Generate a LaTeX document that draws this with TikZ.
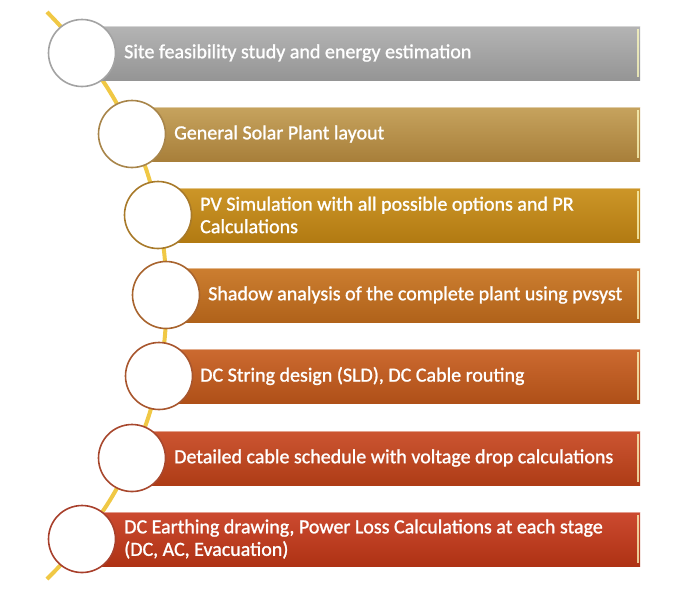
\documentclass[tikz,border=0pt]{standalone}
\usepackage{fontspec}
\setmainfont{Carlito}[FakeBold=1.2]
\usetikzlibrary{backgrounds}
\definecolor{gA}{HTML}{B4B4B4}\definecolor{gB}{HTML}{959595}\definecolor{gC}{HTML}{A3A3A3}
\definecolor{tA}{HTML}{C6A35E}\definecolor{tB}{HTML}{A87F3A}\definecolor{tC}{HTML}{A8854A}
\definecolor{oA}{HTML}{CC9628}\definecolor{oB}{HTML}{B27A12}\definecolor{oC}{HTML}{A87A2A}
\definecolor{pA}{HTML}{CC7E30}\definecolor{pB}{HTML}{B0621A}\definecolor{pC}{HTML}{A8642E}
\definecolor{qA}{HTML}{CC6A30}\definecolor{qB}{HTML}{AF5018}\definecolor{qC}{HTML}{A8562E}
\definecolor{rA}{HTML}{CC5532}\definecolor{rB}{HTML}{AE3C16}\definecolor{rC}{HTML}{A8482E}
\definecolor{sA}{HTML}{CC4A30}\definecolor{sB}{HTML}{AE3214}\definecolor{sC}{HTML}{A8402C}
\definecolor{lineY}{HTML}{F0C845}
\tikzset{
  bar/.style={anchor=west, minimum height=54pt, inner sep=0pt, shade, top color=#1A, bottom color=#1B,
    path picture={
      \draw[white, opacity=0.45, line width=2.5pt] (path picture bounding box.north west) -- (path picture bounding box.north east);
      \draw[yellow!25!white, opacity=0.75, line width=2pt] ([xshift=-2.5pt,yshift=-3pt]path picture bounding box.north east) -- ([xshift=-2.5pt,yshift=3pt]path picture bounding box.south east);
    }},
  bullet/.style={circle, minimum size=67pt, inner sep=0pt, fill=white, draw=#1C, line width=1.6pt},
  lbl/.style={anchor=west, text=white, font=\fontsize{20}{22.5}\selectfont, align=left, inner sep=0pt},
  yline/.style={lineY, line width=4pt}
}
\begin{document}
\begin{tikzpicture}[x=1pt,y=-1pt]
\useasboundingbox (0,0) rectangle (692,595);
% bars
\node[bar=g, minimum width=558pt] (b1) at (82,53) {};
\node[bar=t, minimum width=508pt] (b2) at (132,134) {};
\node[bar=o, minimum width=482pt] (b3) at (158,215) {};
\node[bar=p, minimum width=474pt] (b4) at (166,295) {};
\node[bar=q, minimum width=481pt] (b5) at (159,376) {};
\node[bar=r, minimum width=508pt] (b6) at (132,458) {};
\node[bar=s, minimum width=558pt] (b7) at (82,539) {};
% circles
\node[bullet=g] (c1) at (82,53) {};
\node[bullet=t] (c2) at (132,134) {};
\node[bullet=o] (c3) at (158,215) {};
\node[bullet=p] (c4) at (166,295) {};
\node[bullet=q] (c5) at (159,376) {};
\node[bullet=r] (c6) at (132,458) {};
\node[bullet=s] (c7) at (82,539) {};
% labels
\node[lbl] (t1) at (124,53) {Site feasibility study and energy estimation};
\node[lbl] (t2) at (174,134) {General Solar Plant layout};
\node[lbl] (t3) at (200,215) {PV Simulation with all possible options and PR\\Calculations};
\node[lbl] (t4) at (208,295) {Shadow analysis of the complete plant using pvsyst};
\node[lbl] (t5) at (200,376) {DC String design (SLD), DC Cable routing};
\node[lbl] (t6) at (174,458) {Detailed cable schedule with voltage drop calculations};
\node[lbl] (t7) at (124,539) {DC Earthing drawing, Power Loss Calculations at each stage\\(DC, AC, Evacuation)};
% line
\coordinate (s) at (47,12);
\coordinate (e) at (47,579);
\begin{pgfonlayer}{background}
\draw[yline] (s) to[bend left=4] (c1.center) to[bend left=7] (c2.center) to[bend left=6.3] (c3.center)
  to[bend left=5.9] (c4.center) to[bend left=5.9] (c5.center) to[bend left=6.3] (c6.center)
  to[bend left=7] (c7.center) to[bend left=4] (e);
\end{pgfonlayer}
\end{tikzpicture}
\end{document}
